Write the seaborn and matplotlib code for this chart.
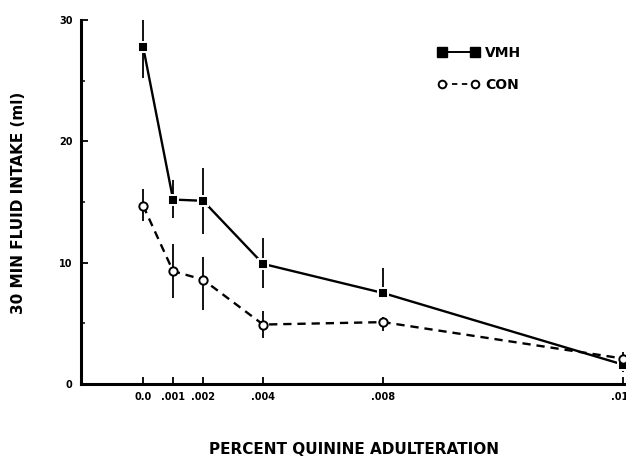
import numpy as np
import pandas as pd
import matplotlib
matplotlib.use("Agg")
import matplotlib.pyplot as plt
import seaborn as sns
from matplotlib.ticker import MultipleLocator
from matplotlib.lines import Line2D

# percent quinine
conc = [0.0, 0.001, 0.002, 0.004, 0.008, 0.016]
tick_labels = ["0.0", ".001", ".002", ".004", ".008", ".016"]

vmh_mean = [27.8, 15.2, 15.1, 9.9, 7.5, 1.6]
vmh_err_lo = [2.6, 1.5, 2.7, 2.0, 0.3, 0.6]
vmh_err_hi = [3.0, 1.6, 2.7, 2.1, 2.1, 0.7]

con_mean = [14.7, 9.3, 8.6, 4.9, 5.1, 2.1]
con_err_lo = [1.3, 2.2, 2.5, 1.1, 0.7, 0.4]
con_err_hi = [1.4, 2.2, 1.9, 1.1, 0.4, 0.5]

df = pd.DataFrame({
    "conc": conc * 2,
    "intake": vmh_mean + con_mean,
    "group": ["VMH"] * len(conc) + ["CON"] * len(conc),
})

sns.set_style("ticks", {"axes.edgecolor": "black", "text.color": "black",
                        "xtick.color": "black", "ytick.color": "black"})
plt.rcParams["font.family"] = ["DejaVu Sans"]

fig = plt.figure(figsize=(6.26, 4.57), dpi=100)
ax = fig.add_axes([81 / 626, 73 / 457, 1 - 81 / 626, 364 / 457])

# error bars first so markers sit on top
ax.errorbar(conc, vmh_mean, yerr=[vmh_err_lo, vmh_err_hi], fmt="none",
            ecolor="black", elinewidth=1.3, capsize=0, zorder=2)
ax.errorbar(conc, con_mean, yerr=[con_err_lo, con_err_hi], fmt="none",
            ecolor="black", elinewidth=1.3, capsize=0, zorder=2)

sns.lineplot(data=df, x="conc", y="intake", hue="group", style="group",
             palette={"VMH": "black", "CON": "black"},
             dashes={"VMH": "", "CON": (3.5, 2.5)},
             markers={"VMH": "s", "CON": "o"},
             linewidth=1.7, markersize=7, markeredgewidth=1.4,
             ax=ax, zorder=3, legend=False)

# open circles for CON
for ln in ax.lines:
    if ln.get_marker() == "o":
        ln.set_markerfacecolor("white")
        ln.set_markeredgecolor("black")
        ln.set_markersize(6)

ax.set_xlim(-0.00207, 0.0161)
ax.set_ylim(0, 30)
ax.set_xticks(conc)
ax.set_xticklabels(tick_labels)
ax.set_yticks([0, 10, 20, 30])
ax.yaxis.set_minor_locator(MultipleLocator(5))

ax.tick_params(axis="both", which="major", direction="in", length=5,
               width=1.3, labelsize=7, pad=6, colors="black")
ax.tick_params(axis="y", which="minor", direction="in", length=3, width=1.1)
for lab in ax.get_xticklabels() + ax.get_yticklabels():
    lab.set_fontweight("bold")

for side in ["top", "right"]:
    ax.spines[side].set_visible(False)
for side in ["left", "bottom"]:
    ax.spines[side].set_linewidth(2.2)
    ax.spines[side].set_color("black")

ax.set_xlabel("")
ax.set_ylabel("")
fig.text(354 / 626, 1 - 450 / 457, "PERCENT QUININE ADULTERATION",
         ha="center", va="center", fontsize=11, fontweight="bold",
         color="black")
fig.text(19 / 626, 1 - 203 / 457, "30 MIN FLUID INTAKE (ml)",
         ha="center", va="center", rotation=90, fontsize=11,
         fontweight="bold", color="black")

# key in the upper right, like the original
h_vmh = Line2D([], [], color="black", lw=1.4, marker="s", markersize=7)
h_con = Line2D([], [], color="black", lw=1.3, ls=(0, (3, 2.5)), marker="o",
               markersize=5.5, markerfacecolor="white", markeredgewidth=1.4)
leg = ax.legend([h_vmh, h_con], ["VMH", "CON"], loc="upper left",
                bbox_to_anchor=((432 - 81) / 545, (457 - 40 - 73) / 364),
                frameon=False, handlelength=3.0, handletextpad=0.4,
                labelspacing=1.3, borderaxespad=0, numpoints=2,
                prop={"weight": "bold", "size": 10})

fig.savefig("out.png", dpi=100)
